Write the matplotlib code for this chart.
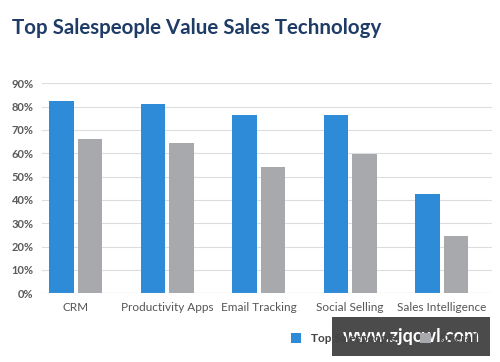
import matplotlib.pyplot as plt
import numpy as np

categories = ["CRM", "Productivity Apps", "Email Tracking", "Social Selling", "Sales Intelligence"]
top_sales = [82.5, 81, 76.5, 76.5, 42.5]
overall = [66, 64.5, 54, 59.5, 24.5]
series_names = ["Top Salespeople", "Overall"]
yticks = list(range(0, 91, 10))

blue = "#2e8bd8"
gray = "#a7a9ac"

plt.rcParams["font.family"] = ["Lato", "DejaVu Sans"]

fig = plt.figure(figsize=(5, 3.62), dpi=100)
ax = fig.add_axes([0.084, 0.19, 0.9, 0.58])

x = np.arange(len(categories))
w = 0.27
ax.bar(x - w / 2 - 0.02, top_sales, w, color=blue, label=series_names[0], zorder=3)
ax.bar(x + w / 2 + 0.02, overall, w, color=gray, label=series_names[1], zorder=3)

ax.set_xlim(-0.37, 4.55)
ax.set_ylim(0, 90)
ax.set_yticks(yticks)
ax.set_yticklabels([f"{v}%" for v in yticks], fontsize=8, fontweight="bold", color="#5a5a5a")
ax.set_xticks(x)
ax.set_xticklabels(categories, fontsize=8.5, color="#555555")
ax.tick_params(length=0, pad=6)
ax.tick_params(axis="x", pad=6)
ax.yaxis.grid(True, color="#dddddd", linewidth=0.8, zorder=0)
for s in ax.spines.values():
    s.set_visible(False)
ax.axhline(0, color="#cccccc", linewidth=0.8, zorder=4)

fig.text(0.024, 0.922, "Top Salespeople Value Sales Technology", fontsize=14.8,
         fontweight="bold", color="#1e3c66", va="center")

fig.legend(loc="lower left", bbox_to_anchor=(0.56, 0.02), ncol=2, frameon=False,
           handlelength=0.9, handleheight=0.9, columnspacing=2.0,
           prop={"weight": "bold", "size": 8.5})
for t in fig.legends[0].get_texts():
    t.set_color("#444444")

fig.text(0.822, 0.07, "www.zjqcwl.com", fontsize=13, fontweight="bold", color="white",
         ha="center", va="center",
         bbox=dict(boxstyle="square,pad=0.6", facecolor="#4b4b4b", edgecolor="none"))

fig.savefig("out.png", dpi=100)
